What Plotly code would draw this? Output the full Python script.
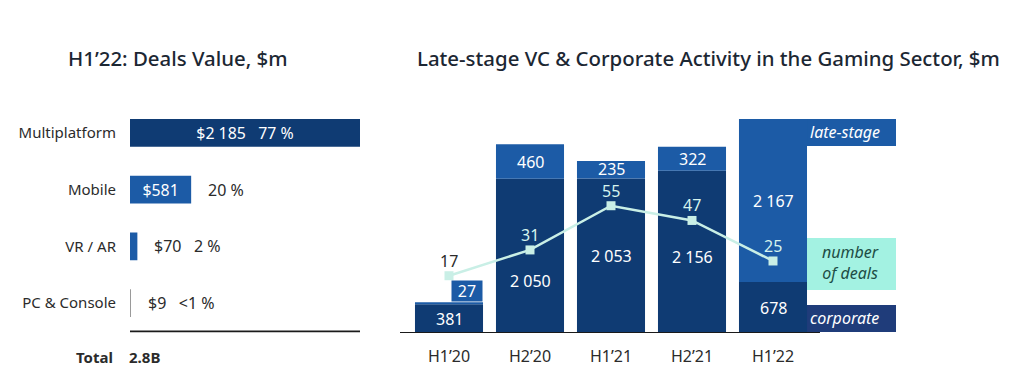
import plotly.graph_objects as go

# ---------------- data ----------------
platforms = ["Multiplatform", "Mobile", "VR / AR", "PC & Console"]
platform_values = [2185, 581, 70, 9]
platform_shares = ["77 %", "20 %", "2 %", "<1 %"]

periods = ["H1’20", "H2’20", "H1’21", "H2’21", "H1’22"]
corporate = [381, 2050, 2053, 2156, 678]
late_stage = [27, 460, 235, 322, 2167]
deals = [17, 31, 55, 47, 25]

# ---------------- styles ----------------
NAVY = "#0f3b73"
BLUE = "#1c5ba6"
GRAY = "#9a9a9a"
MINT = "#a3f2e2"
LINE = "#c9efe6"
TXT = "#2b2b2b"
FONT = "Noto Sans"
FS = 16
W, H = 1024, 379


def px(v):  # x pixel -> paper
    return v / W


def py(v):  # y pixel -> paper
    return 1 - v / H


def fmt(n):
    return f"{n:,}".replace(",", " ")


fig = go.Figure()

# ---------------- left chart ----------------
left_colors = [NAVY, BLUE, BLUE, GRAY]
inside_text = [f"${fmt(platform_values[0])}   {platform_shares[0]}", f"${fmt(platform_values[1])}", "", ""]
fig.add_trace(go.Bar(
    x=platform_values, y=platforms, orientation="h",
    marker=dict(color=left_colors, line=dict(width=0)),
    width=0.49, xaxis="x", yaxis="y",
    text=inside_text, textposition="inside", insidetextanchor="middle",
    textfont=dict(family=FONT, size=FS, color="white"),
    hoverinfo="skip", showlegend=False,
))

outside_labels = [None,
                  platform_shares[1],
                  f"${fmt(platform_values[2])}   {platform_shares[2]}",
                  f"${fmt(platform_values[3])}   {platform_shares[3]}"]
for cat, val, lab in zip(platforms, platform_values, outside_labels):
    if lab:
        fig.add_annotation(x=val, y=cat, xref="x", yref="y", text=lab,
                           showarrow=False, xanchor="left", yanchor="middle", xshift=15,
                           font=dict(family=FONT, size=FS, color=TXT))

# total separator + total
fig.add_shape(type="line", xref="x", yref="y", x0=0, x1=max(platform_values),
              y0=3.5, y1=3.5, line=dict(color="#1a1a1a", width=2))
fig.add_annotation(x=px(115), y=py(357), xref="paper", yref="paper", text="<b>Total</b>",
                   showarrow=False, xanchor="right", yanchor="middle",
                   font=dict(family=FONT, size=15, color=TXT))
fig.add_annotation(x=px(127), y=py(357), xref="paper", yref="paper",
                   text=f"<b>{sum(platform_values)/1000:.1f}B</b>",
                   showarrow=False, xanchor="left", yanchor="middle",
                   font=dict(family=FONT, size=15, color=TXT))

# ---------------- right chart ----------------
fig.add_trace(go.Bar(x=periods, y=corporate, name="corporate", marker=dict(color=NAVY, line=dict(width=0)),
                     width=0.84, xaxis="x2", yaxis="y2", hoverinfo="skip", showlegend=False))
fig.add_trace(go.Bar(x=periods, y=late_stage, base=corporate, name="late-stage",
                     marker=dict(color=BLUE, line=dict(width=0)),
                     width=0.84, xaxis="x2", yaxis="y2", hoverinfo="skip", showlegend=False))

corp_shift = [0, -25, 0, -5, 0]
late_shift = [0, 0, 1, 0, 0]
for i, (p, c, l) in enumerate(zip(periods, corporate, late_stage)):
    fig.add_annotation(x=p, y=c / 2, xref="x2", yref="y2", text=fmt(c), showarrow=False,
                       yanchor="middle", yshift=corp_shift[i],
                       font=dict(family=FONT, size=FS, color="white"))
    if i == 0:
        fig.add_annotation(x=i + 0.42, y=c + l, xref="x2", yref="y2", text=fmt(l), showarrow=False,
                           xanchor="right", yanchor="bottom", width=30, height=20, borderpad=0,
                           bgcolor=BLUE, font=dict(family=FONT, size=FS, color="white"))
    else:
        fig.add_annotation(x=p, y=c + l / 2, xref="x2", yref="y2", text=fmt(l), showarrow=False,
                           yanchor="middle", yshift=late_shift[i],
                           font=dict(family=FONT, size=FS, color="white"))

fig.add_trace(go.Scatter(
    x=periods, y=deals, xaxis="x2", yaxis="y3", mode="lines+markers",
    line=dict(color=LINE, width=2.5),
    marker=dict(symbol="square", size=9, color=LINE),
    hoverinfo="skip", showlegend=False, cliponaxis=False,
))
deal_colors = [TXT] + ["#d6f4ee"] * 4
for p, d, col in zip(periods, deals, deal_colors):
    fig.add_annotation(x=p, y=d, xref="x2", yref="y3", text=str(d), showarrow=False,
                       yanchor="middle", yshift=15, font=dict(family=FONT, size=FS, color=col))

# baseline
fig.add_shape(type="line", xref="x2", yref="y2", x0=-0.605, x1=4.58, y0=0, y1=0,
              line=dict(color="#1a1a1a", width=2))

# legend boxes
fig.add_shape(type="rect", xref="paper", yref="paper", x0=px(806), x1=px(896), y0=py(146), y1=py(119),
              fillcolor=BLUE, line=dict(width=0), layer="below")
fig.add_annotation(x=px(808), y=py(132), xref="paper", yref="paper", text="<i>late-stage</i>",
                   showarrow=False, xanchor="left", yanchor="middle",
                   font=dict(family=FONT, size=FS, color="white"))
fig.add_shape(type="rect", xref="paper", yref="paper", x0=px(807), x1=px(896), y0=py(290), y1=py(238),
              fillcolor=MINT, line=dict(width=0), layer="below")
fig.add_annotation(x=px(850), y=py(262), xref="paper", yref="paper", text="<i>number<br>of deals</i>",
                   showarrow=False, xanchor="center", yanchor="middle",
                   font=dict(family=FONT, size=FS, color="#1d4d45"))
fig.add_shape(type="rect", xref="paper", yref="paper", x0=px(806), x1=px(896), y0=py(332), y1=py(305),
              fillcolor="#1f3c7a", line=dict(width=0), layer="below")
fig.add_annotation(x=px(808), y=py(318), xref="paper", yref="paper", text="<i>corporate</i>",
                   showarrow=False, xanchor="left", yanchor="middle",
                   font=dict(family=FONT, size=FS, color="white"))

# titles
title_font = dict(family=FONT, size=20.4, color="#1c2733", weight=500)
fig.add_annotation(x=px(178), y=py(58), xref="paper", yref="paper", text="H1’22: Deals Value, $m",
                   showarrow=False, xanchor="center", yanchor="middle", font=title_font)
fig.add_annotation(x=px(708), y=py(58), xref="paper", yref="paper",
                   text="Late-stage VC & Corporate Activity in the Gaming Sector, $m",
                   showarrow=False, xanchor="center", yanchor="middle", font=title_font)

fig.update_layout(
    width=W, height=H, margin=dict(l=0, r=0, t=0, b=0),
    paper_bgcolor="white", plot_bgcolor="rgba(0,0,0,0)",
    barmode="overlay",
    font=dict(family=FONT, size=FS, color=TXT),
    xaxis=dict(domain=[px(130), px(380)], range=[0, 2185 * 250 / 230], visible=False, fixedrange=True),
    yaxis=dict(domain=[py(332.5), py(104.5)], autorange="reversed", showgrid=False, showline=False,
               ticks="", ticklabelstandoff=13, tickfont=dict(family=FONT, size=15, color=TXT)),
    xaxis2=dict(domain=[px(400), px(900)], range=[-0.605, 5.568], anchor="y2", showgrid=False,
                showline=False, ticks="", ticklabelstandoff=12,
                tickfont=dict(family=FONT, size=FS, color=TXT)),
    yaxis2=dict(domain=[py(333), py(100)], range=[0, 3098], anchor="x2", visible=False),
    yaxis3=dict(domain=[py(333), py(100)], range=[-14.1, 112.4], overlaying="y2", anchor="x2", visible=False),
)

fig.write_html("out.html", config={"displayModeBar": False},
               post_script="document.body.style.margin='0';")
